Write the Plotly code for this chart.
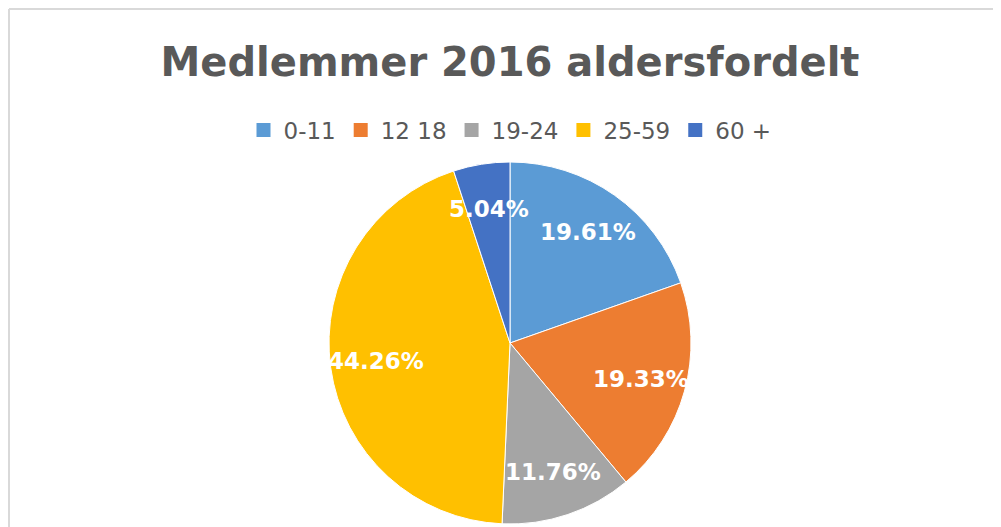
import math
import plotly.graph_objects as go

labels = ["0-11", "12 18", "19-24", "25-59", "60 +"]
values = [19.61, 19.33, 11.76, 44.26, 5.04]
colors = ["#5B9BD5", "#ED7D31", "#A5A5A5", "#FFC000", "#4472C4"]
title_text = "Medlemmer 2016 aldersfordelt"

W, H = 1100, 600                    # chart area runs past the window edges, like the reference
cx, cy, r = 502, 335, 181          # pie centre / radius in figure pixels
label_frac = 0.75                   # label distance from centre, as a fraction of radius

fig = go.Figure()
fig.add_trace(go.Pie(
    labels=labels, values=values, sort=False, direction="clockwise", rotation=0,
    marker=dict(colors=colors, line=dict(color="white", width=1)),
    textinfo="none", showlegend=False,
    domain=dict(x=[(cx - r) / W, (cx + r) / W], y=[(H - cy - r) / H, (H - cy + r) / H]),
    hoverinfo="label+percent",
))

# legend entries with square swatches
for lab, col in zip(labels, colors):
    fig.add_trace(go.Scatter(x=[None], y=[None], mode="markers", name=lab,
                             marker=dict(symbol="square", size=14, color=col),
                             hoverinfo="skip"))

# data labels placed along each slice's bisector (clockwise from 12 o'clock)
total = sum(values)
annotations = []
cum = 0.0
for v in values:
    mid = (cum + v / 2) / total * 2 * math.pi
    cum += v
    px = cx + label_frac * r * math.sin(mid)
    py = cy - label_frac * r * math.cos(mid)
    annotations.append(dict(
        x=px / W, y=1 - py / H, xref="paper", yref="paper",
        text="<b>%.2f%%</b>" % (v / total * 100), showarrow=False,
        xanchor="center", yanchor="middle",
        font=dict(family="DejaVu Sans", size=23, color="white"),
    ))

border = dict(color="#D9D9D9", width=2)
top = 1 - 1 / H
left = 1 / W
fig.update_layout(
    width=W, height=H,
    margin=dict(l=0, r=0, t=0, b=0),
    paper_bgcolor="white", plot_bgcolor="rgba(0,0,0,0)",
    xaxis=dict(visible=False), yaxis=dict(visible=False),
    title=dict(text="<b>" + title_text + "</b>", x=502 / W, xanchor="center",
               y=1 - 54 / H, yanchor="middle",
               font=dict(family="DejaVu Sans", size=40, color="#595959")),
    legend=dict(orientation="h", x=502 / W, xanchor="center", y=1 - 122 / H, yanchor="middle",
                font=dict(family="DejaVu Sans", size=23, color="#595959"),
                traceorder="normal", itemclick=False, itemdoubleclick=False),
    annotations=annotations,
    shapes=[
        dict(type="line", xref="paper", yref="paper", x0=left, y0=top, x1=1, y1=top, line=border),
        dict(type="line", xref="paper", yref="paper", x0=left, y0=0, x1=left, y1=top, line=border),
    ],
)

fig.write_html("out.html",
               post_script="document.documentElement.style.overflow='hidden';"
                           "document.body.style.overflow='hidden';")
